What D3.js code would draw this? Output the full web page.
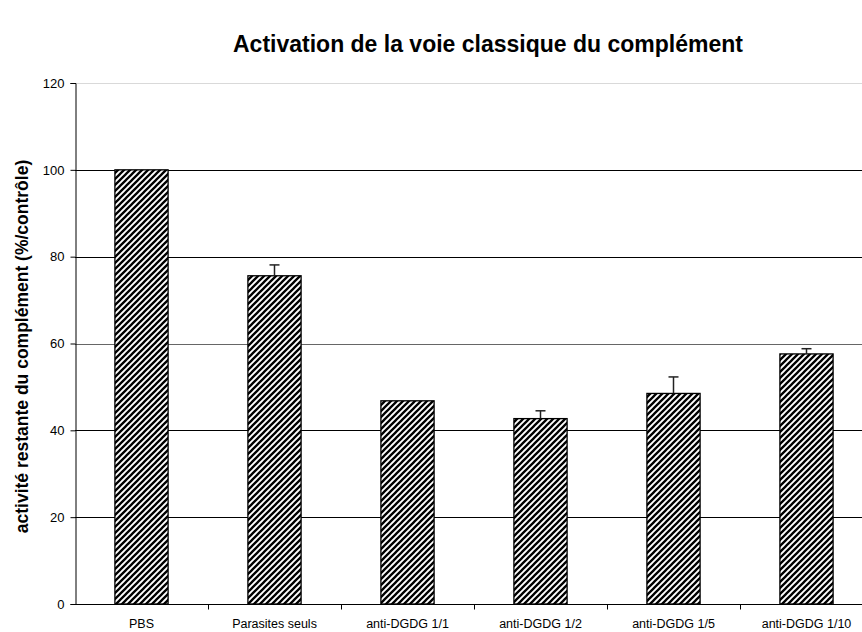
<!DOCTYPE html>
<html>
<head>
<meta charset="utf-8">
<script src="https://cdn.jsdelivr.net/npm/d3@7"></script>
<style>
  html, body { margin: 0; padding: 0; background: #fff; }
  svg { display: block; font-family: "Liberation Sans", Arial, sans-serif; }
</style>
</head>
<body>
<svg id="chart" width="862" height="632"></svg>
<script>
// Groupes testés
const categories = ["PBS", "Parasites seuls", "anti-DGDG 1/1", "anti-DGDG 1/2", "anti-DGDG 1/5", "anti-DGDG 1/10"];
// Activité restante (% du contrôle)
const values = [100, 75.6, 46.8, 42.7, 48.5, 57.6];
// Écart-type (barre d'erreur supérieure)
const errors = [0, 2.5, 0, 1.8, 3.8, 1.2];
const yTicks = [0, 20, 40, 60, 80, 100, 120];

const svg = d3.select("#chart");
const margin = { left: 75, top: 83, bottom: 604 };
const plotRight = 873;

const x = d3.scaleBand().domain(categories).range([margin.left, plotRight]).paddingInner(0.6).paddingOuter(0.3);
const xEdges = d3.scaleLinear().domain([0, categories.length]).range([margin.left, plotRight]);
const y = d3.scaleLinear().domain([0, 120]).range([margin.bottom, margin.top]);

// Hachures diagonales des barres
const defs = svg.append("defs");
const pat = defs.append("pattern")
  .attr("id", "hatch").attr("patternUnits", "userSpaceOnUse")
  .attr("width", 6).attr("height", 6);
pat.append("rect").attr("width", 6).attr("height", 6).attr("fill", "#fff");
pat.append("path")
  .attr("d", "M-1,1 l2,-2 M0,6 l6,-6 M5,7 l2,-2")
  .attr("stroke", "#000").attr("stroke-width", 2.3);

// Titre
svg.append("text")
  .attr("x", 488).attr("y", 52)
  .attr("text-anchor", "middle")
  .attr("font-size", 23).attr("font-weight", "bold")
  .text("Activation de la voie classique du complément");

// Quadrillage horizontal
svg.append("g").selectAll("line")
  .data(yTicks.filter(d => d > 0))
  .join("line")
  .attr("x1", margin.left).attr("x2", plotRight)
  .attr("y1", d => Math.round(y(d)) + 0.5).attr("y2", d => Math.round(y(d)) + 0.5)
  .attr("stroke", d => d === 120 ? "#d9d9d9" : (d === 60 ? "#666" : "#000"))
  .attr("stroke-width", 1);

// Barres
svg.append("g").selectAll("rect")
  .data(categories)
  .join("rect")
  .attr("x", d => x(d))
  .attr("width", x.bandwidth())
  .attr("y", (d, i) => y(values[i]))
  .attr("height", (d, i) => y(0) - y(values[i]))
  .attr("fill", "url(#hatch)")
  .attr("stroke", "#000").attr("stroke-width", 1.3);

// Barres d'erreur
const eb = svg.append("g").attr("stroke", "#222").attr("stroke-width", 1.5);
categories.forEach((c, i) => {
  if (!errors[i]) return;
  const cx = x(c) + x.bandwidth() / 2;
  eb.append("line").attr("x1", cx).attr("x2", cx)
    .attr("y1", y(values[i])).attr("y2", y(values[i] + errors[i]));
  eb.append("line").attr("x1", cx - 5).attr("x2", cx + 5)
    .attr("y1", y(values[i] + errors[i])).attr("y2", y(values[i] + errors[i]));
});

// Axe Y
const yAxis = d3.axisLeft(y).tickValues(yTicks).tickSize(5).tickPadding(6);
const gy = svg.append("g").attr("transform", `translate(${margin.left + 0.5},0)`).call(yAxis);
gy.select(".domain").attr("stroke", "#000");
gy.selectAll(".tick line").attr("stroke", "#000");
gy.selectAll(".tick text").attr("font-size", 13).attr("font-family", "Liberation Sans, Arial, sans-serif").attr("fill", "#000");

// Axe X
const xAxis = d3.axisBottom(x).tickSize(0).tickPadding(15);
const gx = svg.append("g").attr("transform", `translate(0,${margin.bottom + 0.5})`).call(xAxis);
gx.select(".domain").attr("stroke", "#000").attr("d", `M${margin.left},0H${plotRight}`);
gx.selectAll(".tick text").attr("font-size", 12.5).attr("font-family", "Liberation Sans, Arial, sans-serif").attr("fill", "#000");
gx.selectAll(".sep")
  .data(d3.range(1, categories.length))
  .join("line").attr("class", "sep")
  .attr("x1", d => Math.round(xEdges(d)) + 0.5).attr("x2", d => Math.round(xEdges(d)) + 0.5)
  .attr("y1", 0).attr("y2", 5).attr("stroke", "#000");

// Titre de l'axe Y
svg.append("text")
  .attr("transform", `translate(28,${(margin.top + margin.bottom) / 2 + 3}) rotate(-90)`)
  .attr("text-anchor", "middle")
  .attr("font-size", 17.5).attr("font-weight", "bold")
  .text("activité restante du complément (%/contrôle)");
</script>
</body>
</html>
